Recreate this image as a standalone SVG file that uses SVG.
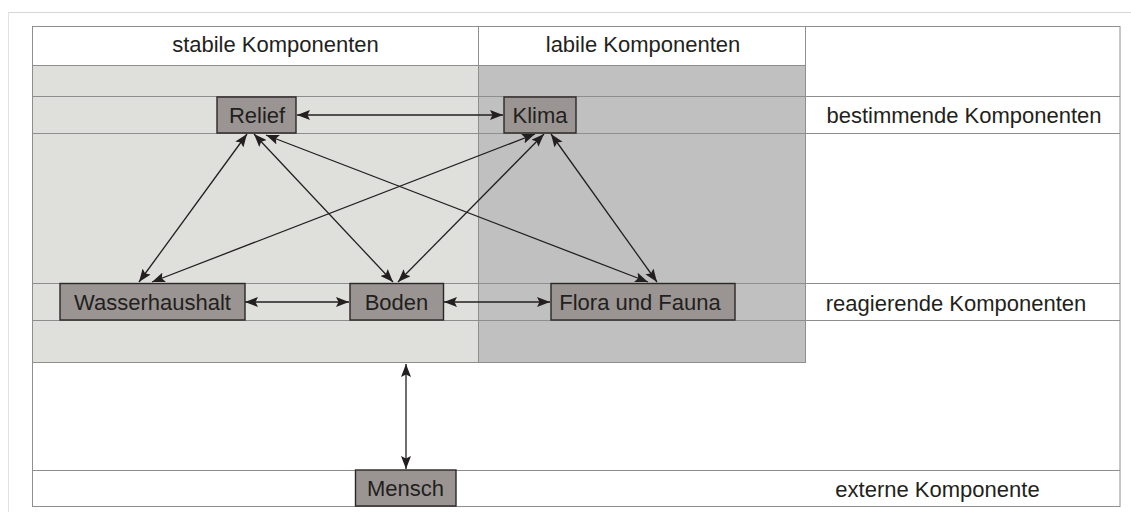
<svg xmlns="http://www.w3.org/2000/svg" width="1131" height="512" viewBox="0 0 1131 512">
<style>
.t{font-family:"Liberation Sans",Arial,sans-serif;font-size:22px;fill:#231f20;text-anchor:middle}
.grid{stroke:#8e8e8e;stroke-width:1;fill:none}
.node rect{fill:#9a9592;stroke:#2b2727;stroke-width:1.4}
.c line{stroke:#231f20;stroke-width:1.3;marker-start:url(#ah);marker-end:url(#ah)}
</style>
<defs>
<marker id="ah" viewBox="0 0 13 10" refX="13" refY="5" markerWidth="13" markerHeight="10" markerUnits="userSpaceOnUse" orient="auto-start-reverse">
<path d="M0,0 L13,5 L0,10 L2.5,5 z" fill="#231f20"/>
</marker>
</defs>
<rect width="1131" height="512" fill="#fff"/>
<g id="frame">
<line x1="8" y1="12.5" x2="1131" y2="12.5" stroke="#d6d6d6"/>
<line x1="8.5" y1="12" x2="8.5" y2="512" stroke="#e2e2e2"/>
</g>
<g id="table">
<rect x="32" y="65" width="446" height="297.5" fill="#dfdfdb"/>
<rect x="478" y="65" width="328" height="297.5" fill="#c0c0c0"/>
<rect class="grid" x="32.5" y="26.5" width="1087.5" height="480"/>
<line class="grid" x1="32" y1="65.5" x2="806" y2="65.5"/>
<line class="grid" x1="478.5" y1="26" x2="478.5" y2="362.5"/>
<line class="grid" x1="805.5" y1="26" x2="805.5" y2="362.5"/>
<line class="grid" x1="32" y1="96.5" x2="1120" y2="96.5"/>
<line class="grid" x1="32" y1="133.5" x2="1120" y2="133.5"/>
<line class="grid" x1="32" y1="283.5" x2="1120" y2="283.5"/>
<line class="grid" x1="32" y1="320.5" x2="1120" y2="320.5"/>
<line class="grid" x1="32" y1="362.5" x2="806" y2="362.5"/>
<line class="grid" x1="32" y1="470.5" x2="1120" y2="470.5"/>
<text class="t" x="275.5" y="52">stabile Komponenten</text>
<text class="t" x="643" y="52">labile Komponenten</text>
<text class="t" x="964" y="123">bestimmende Komponenten</text>
<text class="t" x="956" y="311">reagierende Komponenten</text>
<text class="t" x="937.5" y="497">externe Komponente</text>
</g>
<g id="connectors" class="c">
<line x1="297" y1="115" x2="503" y2="115"/>
<line x1="247" y1="134" x2="139" y2="282"/>
<line x1="254" y1="134" x2="393" y2="282"/>
<line x1="266" y1="135" x2="648" y2="282"/>
<line x1="535" y1="134" x2="152" y2="282"/>
<line x1="544" y1="134" x2="398" y2="282"/>
<line x1="551" y1="134" x2="657" y2="282"/>
<line x1="245" y1="302" x2="349" y2="302"/>
<line x1="444" y1="302" x2="550" y2="302"/>
<line x1="406" y1="364" x2="406" y2="469"/>
</g>
<g id="relief" class="node"><rect x="217" y="97" width="79" height="36"/><text class="t" x="257" y="123">Relief</text></g>
<g id="klima" class="node"><rect x="504" y="97" width="72" height="36"/><text class="t" x="540" y="123">Klima</text></g>
<g id="wasserhaushalt" class="node"><rect x="60" y="283.5" width="185" height="36.5"/><text class="t" x="152.5" y="309.5">Wasserhaushalt</text></g>
<g id="boden" class="node"><rect x="350" y="283.5" width="93.5" height="36.5"/><text class="t" x="396.5" y="309.5">Boden</text></g>
<g id="flora" class="node"><rect x="551" y="283.5" width="184" height="36.5"/><text class="t" x="640" y="309.5">Flora und Fauna</text></g>
<g id="mensch" class="node"><rect x="355.5" y="470" width="100.5" height="36"/><text class="t" x="405.5" y="496">Mensch</text></g>
</svg>
